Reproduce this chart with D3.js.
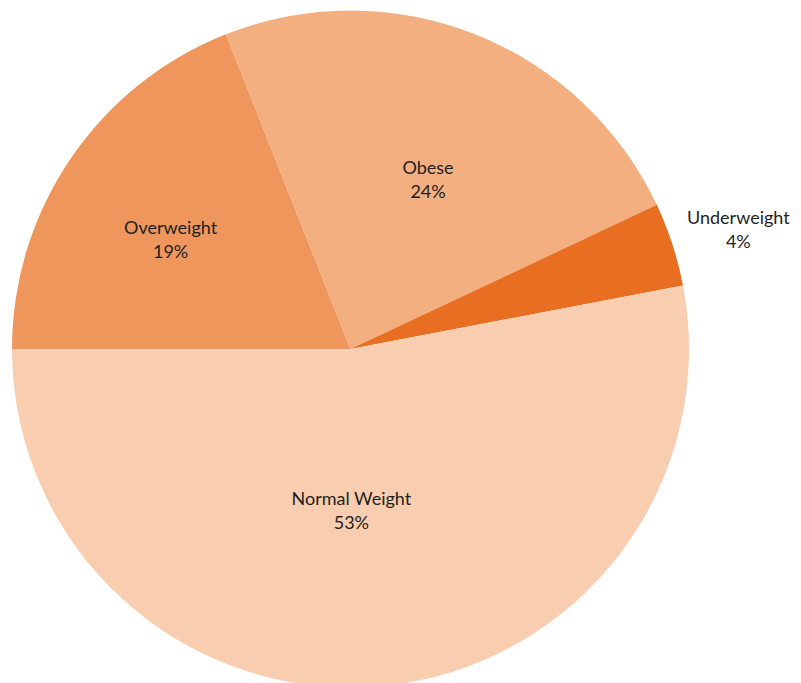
<!DOCTYPE html>
<html>
<head>
<meta charset="utf-8">
<script src="https://cdn.jsdelivr.net/npm/d3@7"></script>
<style>
  html, body { margin: 0; padding: 0; background: #ffffff; }
  svg { display: block; }
  text { font-family: Lato, "Open Sans", sans-serif; fill: #231f20; }
</style>
</head>
<body>
<svg id="chart" width="801" height="683"></svg>
<script>
// Weight status shares, listed clockwise from nine o'clock
const categories = ["Overweight", "Obese", "Underweight", "Normal Weight"];
const shares = [19, 24, 4, 53];
const colors = ["#ee965b", "#f3af80", "#e86e21", "#f9cdaf"];

const width = 801, height = 683;
const cx = 350.5, cy = 349, radius = 338.5;

// Label placement: distance from the centre and a small angular nudge (degrees)
const labelLayout = {
  "Overweight":    { r: 211, nudge: -2.7 },
  "Obese":         { r: 187, nudge: 2.9 },
  "Underweight":   { r: 406, nudge: 0.8 },
  "Normal Weight": { r: 161, nudge: 5.1 }
};

const data = categories.map((c, i) => ({ name: c, value: shares[i], color: colors[i] }));

const pie = d3.pie()
  .value(d => d.value)
  .sort(null)
  .startAngle(-Math.PI / 2)
  .endAngle(Math.PI * 1.5);

const arc = d3.arc().innerRadius(0).outerRadius(radius);

const svg = d3.select("#chart");
const g = svg.append("g").attr("transform", `translate(${cx},${cy})`);

const arcs = pie(data);

g.selectAll("path.slice")
  .data(arcs)
  .join("path")
  .attr("class", "slice")
  .attr("d", arc)
  .attr("fill", d => d.data.color);

const labels = g.selectAll("g.label")
  .data(arcs)
  .join("g")
  .attr("class", "label")
  .attr("transform", d => {
    const lay = labelLayout[d.data.name];
    const a = (d.startAngle + d.endAngle) / 2 + lay.nudge * Math.PI / 180;
    return `translate(${lay.r * Math.sin(a)},${-lay.r * Math.cos(a)})`;
  });

labels.append("text")
  .attr("text-anchor", "middle")
  .attr("font-size", 18)
  .attr("y", -5)
  .text(d => d.data.name);

labels.append("text")
  .attr("text-anchor", "middle")
  .attr("font-size", 18)
  .attr("y", 19)
  .text(d => d.data.value + "%");
</script>
</body>
</html>
